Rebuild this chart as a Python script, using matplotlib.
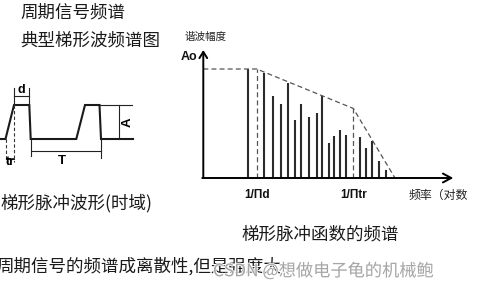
import matplotlib
matplotlib.use("Agg")
import matplotlib.pyplot as plt
import matplotlib.patheffects as pe

plt.rcParams['font.family'] = ['Noto Sans CJK SC', 'DejaVu Sans']

W, H = 479, 295

# ---- spectrum data (frequency offset from the axis origin, amplitude relative to Ao) ----
harm_freq = [45.0, 61.0, 69.4, 77.7, 84.4, 91.2, 97.7, 106.0, 113.4, 118.4,
             125.4, 130.4, 136.7, 142.7, 156.2, 162.7, 169.0, 175.4, 182.4]
harm_amp = [1.00, 0.966, 0.752, 0.679, 0.874, 0.532, 0.682, 0.557, 0.599, 0.752,
            0.318, 0.385, 0.440, 0.394, 0.376, 0.278, 0.342, 0.156, 0.073]
env_freq = [0.0, 53.4, 150.0, 191.7]
env_amp = [1.0, 1.0, 0.638, 0.0]
corner_labels = ["1/Πd", "1/Πtr"]
corner_freq = [53.4, 150.0]
corner_amp = [1.0, 0.638]

# ---- trapezoidal pulse train (time, level) ----
wave_t = [0.0, 5.5, 14.0, 29.3, 30.7, 76.3, 85.0, 99.5, 101.0, 133.0]
wave_lvl = [0, 0, 1, 1, 0, 0, 1, 1, 0, 0]

fig = plt.figure(figsize=(W / 100, H / 100), dpi=100)
fig.patch.set_facecolor('white')

# full-figure layer for free text
txt = fig.add_axes([0, 0, 1, 1])
txt.set_xlim(0, W)
txt.set_ylim(H, 0)
txt.axis('off')

# ---------------- spectrum panel ----------------
ox, oy, ppu = 203.3, 178.0, 109.0
sp = fig.add_axes([ox / W, (H - oy) / H, 260 / W, 1.2 * ppu / H])
sp.set_xlim(0, 260)
sp.set_ylim(0, 1.2)
sp.axis('off')

sp.vlines(harm_freq, 0, harm_amp, colors='#2b2b2b', lw=1.5)
sp.plot(env_freq, env_amp, color='#555555', lw=0.9, ls=(0, (4, 2.5)))
sp.vlines(corner_freq, 0, corner_amp, colors='#555555', lw=0.9,
          linestyles=[(0, (4, 2.5))])
sp.annotate('', xy=(0, 1.174), xytext=(0, 0),
            arrowprops=dict(arrowstyle='->,head_length=0.45,head_width=0.28',
                            lw=1.4, color='black', shrinkA=0, shrinkB=0))
sp.annotate('', xy=(250, 0), xytext=(-1, 0),
            arrowprops=dict(arrowstyle='->,head_length=0.6,head_width=0.32',
                            lw=1.4, color='black', shrinkA=0, shrinkB=0))
for lab, f in zip(corner_labels, corner_freq):
    sp.annotate(lab, xy=(f, 0), xytext=(0, -12.5), textcoords='offset points',
                ha='center', va='center', fontsize=8.5, fontweight='bold',
                family=['Liberation Sans', 'DejaVu Sans'], color='#111111')
sp.annotate('频率（对数', xy=(205, 0), xytext=(0, -12.5), textcoords='offset points',
            ha='left', va='center', fontsize=8.6, color='#222222', annotation_clip=False)
sp.annotate('谐波幅度', xy=(0, 1.174), xytext=(1.5, 9.5), textcoords='offset points',
            ha='center', va='center', fontsize=7.6, color='#222222')
sp.annotate('Ao', xy=(0, 1.0), xytext=(-10, 8.5), textcoords='offset points',
            ha='center', va='center', fontsize=9, fontweight='bold',
            family=['Liberation Sans', 'DejaVu Sans'], color='#111111')

# ---------------- time-domain pulse panel ----------------
base_px, lpu = 139.0, 34.0
wv = fig.add_axes([0, (H - (base_px + 1.0 * lpu)) / H, 140 / W, 2.6 * lpu / H])
wv.set_xlim(0, 140)
wv.set_ylim(-1.0, 1.6)
wv.axis('off')

wv.plot(wave_t, wave_lvl, color='#1a1a1a', lw=1.5, solid_joinstyle='miter')

dim = dict(color='#222222', lw=0.8)
dash = dict(color='#333333', lw=0.8, ls=(0, (3, 2)))
# d: top width of the first pulse
wv.plot([wave_t[2], wave_t[2]], [1.0, 1.5], **dim)
wv.plot([wave_t[3], wave_t[3]], [1.0, 1.5], **dim)
wv.plot([wave_t[2], wave_t[3]], [1.27, 1.27], **dim)
wv.text((wave_t[2] + wave_t[3]) / 2, 1.43, 'd', ha='center', va='center',
        fontsize=9, fontweight='bold', family=['Liberation Sans', 'DejaVu Sans'])
# tr: rise time
wv.plot([wave_t[1], wave_t[1]], [0.0, -0.68], **dash)
wv.plot([wave_t[2], wave_t[2]], [1.0, -0.68], **dash)
wv.plot([wave_t[1], wave_t[2]], [-0.59, -0.59], **dim)
wv.text((wave_t[1] + wave_t[2]) / 2 + 1, -0.68, 'tr', ha='center', va='center',
        fontsize=9, fontweight='bold', family=['Liberation Sans', 'DejaVu Sans'])
# T: period
wv.plot([wave_t[4], wave_t[4]], [0.0, -0.5], **dim)
wv.plot([wave_t[8], wave_t[8]], [0.0, -0.56], **dim)
wv.plot([wave_t[4], wave_t[8]], [-0.35, -0.35], **dim)
wv.text((wave_t[4] + wave_t[8]) / 2 - 4, -0.64, 'T', ha='center', va='center',
        fontsize=9.5, fontweight='bold', family=['Liberation Sans', 'DejaVu Sans'])
# A: amplitude
wv.plot([wave_t[7], 132], [1.0, 1.0], **dim)
wv.plot([119.3, 119.3], [0.0, 1.0], **dim)
wv.text(127.5, 0.5, 'A', ha='center', va='center', rotation=90,
        fontsize=9.5, fontweight='bold', family=['Liberation Sans', 'DejaVu Sans'])

# ---------------- headings and captions ----------------
big = 12.6
txt.text(20, 13, '周期信号频谱', ha='left', va='center', fontsize=big, color='#1a1a1a')
txt.text(20, 41, '典型梯形波频谱图', ha='left', va='center', fontsize=big, color='#1a1a1a')
txt.text(0, 203.5, '梯形脉冲波形(时域)', ha='left', va='center', fontsize=big, color='#1a1a1a')
txt.text(320, 235, '梯形脉冲函数的频谱', ha='center', va='center', fontsize=big, color='#1a1a1a')
txt.text(-4, 266, '周期信号的频谱成离散性,但是强度大', ha='left', va='center',
         fontsize=big, color='#1a1a1a')
txt.text(213, 271, 'CSDN @想做电子龟的机械鲍', ha='left', va='center', fontsize=12.4,
         color='#9a9a9a', alpha=0.85,
         path_effects=[pe.withStroke(linewidth=1.5, foreground='white')])

fig.savefig('out.png', dpi=100, facecolor='white')
